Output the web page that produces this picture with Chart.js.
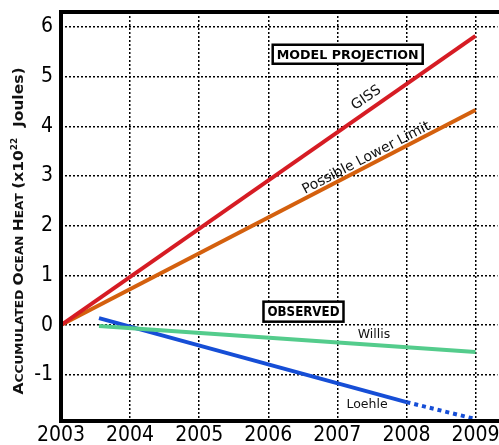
<!DOCTYPE html>
<html>
<head>
<meta charset="utf-8">
<script src="https://cdn.jsdelivr.net/npm/chart.js@4.4.1/dist/chart.umd.min.js"></script>
<style>
  html, body { margin: 0; padding: 0; background: #fff; overflow: hidden; }
  #wrap { width: 499px; height: 445px; }
  canvas { display: block; }
</style>
</head>
<body>
<div id="wrap"><canvas id="heatChart" width="499" height="445"></canvas></div>
<script>
// Tick labels
const yearTicks = [2003, 2004, 2005, 2006, 2007, 2008, 2009];
const heatTicks = [-1, 0, 1, 2, 3, 4, 5, 6];

// Series (year, 10^22 J)
const gissYears = [2003, 2009];
const gissHeat = [0, 5.82];
const lowerYears = [2003, 2009];
const lowerHeat = [0, 4.33];
const willisYears = [2003.55, 2009];
const willisHeat = [-0.02, -0.54];
const loehleYears = [2003.55, 2008, 2009];
const loehleHeat = [0.14, -1.55, -1.89];

const tickFont = '"DejaVu Sans Condensed", "DejaVu Sans", sans-serif';
const labelFont = '"DejaVu Sans", sans-serif';

function toPoints(xs, ys) {
    return xs.map((x, i) => ({ x: x, y: ys[i] }));
}

// Frame: thick left, bottom and top borders, running to the canvas edge
const framePlugin = {
    id: 'frame',
    afterDraw(chart) {
        const { ctx, chartArea } = chart;
        ctx.save();
        // keep the strip right of the plot clean (no closing edge in the original)
        ctx.fillStyle = '#fff';
        ctx.fillRect(chartArea.right - 1.5, chartArea.top + 2, chart.width - chartArea.right + 2, chartArea.bottom - chartArea.top - 4);
        ctx.strokeStyle = '#000';
        ctx.lineWidth = 4;
        ctx.beginPath();
        ctx.moveTo(chart.width, chartArea.top);
        ctx.lineTo(chartArea.left, chartArea.top);
        ctx.lineTo(chartArea.left, chartArea.bottom);
        ctx.lineTo(chart.width, chartArea.bottom);
        ctx.stroke();
        ctx.restore();
    }
};

// Boxed label, text squeezed to a given width
function boxedText(ctx, text, cx, cy, size, textW) {
    ctx.save();
    ctx.font = 'bold ' + size + 'px ' + labelFont;
    const w = textW;
    const h = size + 6;
    ctx.fillStyle = '#fff';
    ctx.fillRect(cx - w / 2 - 4, cy - h / 2, w + 8, h);
    ctx.strokeStyle = '#000';
    ctx.lineWidth = 2.5;
    ctx.strokeRect(cx - w / 2 - 4, cy - h / 2, w + 8, h);
    ctx.translate(cx, cy + 1);
    ctx.scale(textW / ctx.measureText(text).width, 1);
    ctx.fillStyle = '#000';
    ctx.textAlign = 'center';
    ctx.textBaseline = 'middle';
    ctx.fillText(text, 0, 0);
    ctx.restore();
}

function rotatedText(ctx, text, cx, cy, angle, font) {
    ctx.save();
    ctx.translate(cx, cy);
    ctx.rotate(angle);
    ctx.font = font;
    ctx.fillStyle = '#111';
    ctx.textAlign = 'center';
    ctx.textBaseline = 'middle';
    ctx.fillText(text, 0, 0);
    ctx.restore();
}

const labelsPlugin = {
    id: 'labels',
    afterDraw(chart) {
        const { ctx } = chart;
        const xs = chart.scales.x, ys = chart.scales.y;
        const px = v => xs.getPixelForValue(v);
        const py = v => ys.getPixelForValue(v);
        ctx.save();

        boxedText(ctx, 'MODEL PROJECTION', px(2007.15), py(5.45), 13, 142);
        boxedText(ctx, 'OBSERVED', px(2006.51), py(0.27), 14, 72);

        // line angles from the data
        const gAng = Math.atan2(py(gissHeat[1]) - py(0), px(2009) - px(2003));
        const lAng = Math.atan2(py(lowerHeat[1]) - py(0), px(2009) - px(2003));
        rotatedText(ctx, 'GISS', px(2007.42), py(4.57), gAng, '14px ' + labelFont);
        rotatedText(ctx, 'Possible Lower Limit', px(2007.42), py(3.36), lAng, '14px ' + labelFont);

        ctx.font = '12.5px ' + labelFont;
        ctx.fillStyle = '#111';
        ctx.textAlign = 'center';
        ctx.textBaseline = 'middle';
        ctx.fillText('Willis', px(2007.53), py(-0.2));
        ctx.fillText('Loehle', px(2007.43), py(-1.6));

        // Y axis title in small caps
        const parts = [
            ['A', 14], ['CCUMULATED ', 11], ['O', 14], ['CEAN ', 11], ['H', 14], ['EAT ', 11],
            ['(x10', 14], ['22', 8, true], ['  Joules)', 14]
        ];
        let total = 0;
        parts.forEach(p => { ctx.font = 'bold ' + p[1] + 'px ' + labelFont; total += ctx.measureText(p[0]).width; });
        const target = 327;
        ctx.translate(18, 231);
        ctx.rotate(-Math.PI / 2);
        ctx.scale(target / total, 1);
        let x = -total / 2;
        ctx.textAlign = 'left';
        ctx.textBaseline = 'alphabetic';
        parts.forEach(p => {
            ctx.font = 'bold ' + p[1] + 'px ' + labelFont;
            ctx.fillText(p[0], x, p[2] ? -1 : 5);
            x += ctx.measureText(p[0]).width;
        });
        ctx.restore();
    }
};

// only real ticks get a grid line
const gridWidth = list => c => (c.tick && list.includes(c.tick.value) && c.index < list.length) ? 1.5 : 0;

const ctx = document.getElementById('heatChart').getContext('2d');
const heatChart = new Chart(ctx, {
    type: 'line',
    data: {
        datasets: [
            {
                label: 'GISS',
                data: toPoints(gissYears, gissHeat),
                borderColor: 'rgb(214, 28, 36)',
                borderWidth: 4,
                pointRadius: 0
            },
            {
                label: 'Possible Lower Limit',
                data: toPoints(lowerYears, lowerHeat),
                borderColor: 'rgb(212, 96, 14)',
                borderWidth: 4,
                pointRadius: 0
            },
            {
                label: 'Willis',
                data: toPoints(willisYears, willisHeat),
                borderColor: 'rgb(84, 204, 140)',
                borderWidth: 4,
                pointRadius: 0
            },
            {
                label: 'Loehle',
                data: toPoints(loehleYears, loehleHeat),
                borderColor: 'rgb(22, 78, 214)',
                borderWidth: 4,
                pointRadius: 0,
                borderCapStyle: 'butt',
                segment: {
                    borderDash: c => c.p0.parsed.x >= 2008 ? [4, 4] : undefined
                }
            }
        ]
    },
    options: {
        responsive: false,
        animation: false,
        layout: { padding: { top: 12, right: 0, left: 0, bottom: 0 } },
        plugins: {
            legend: { display: false },
            tooltip: { enabled: false }
        },
        scales: {
            x: {
                type: 'linear',
                min: 2003,
                max: 2009.34,
                afterBuildTicks: s => { s.ticks = yearTicks.map(v => ({ value: v })); },
                afterFit: s => { s.height = 24; s.paddingLeft = 0; s.paddingRight = 0; },
                grid: { color: '#000', lineWidth: gridWidth(yearTicks), drawTicks: false },
                border: { display: false, dash: [2, 2] },
                ticks: {
                    padding: 2,
                    maxRotation: 0,
                    color: '#000',
                    font: { family: tickFont, size: 21 },
                    callback: v => String(v)
                }
            },
            y: {
                min: -1.93,
                max: 6.3,
                afterBuildTicks: s => { s.ticks = heatTicks.map(v => ({ value: v })); },
                afterFit: s => { s.width = 61; s.paddingTop = 0; s.paddingBottom = 0; },
                grid: { color: '#000', lineWidth: 1.5, drawTicks: false },
                border: { display: false, dash: [2, 2] },
                ticks: {
                    padding: 8,
                    color: '#000',
                    font: { family: tickFont, size: 21 },
                    callback: v => String(v)
                }
            }
        }
    },
    plugins: [framePlugin, labelsPlugin]
});
</script>
</body>
</html>
